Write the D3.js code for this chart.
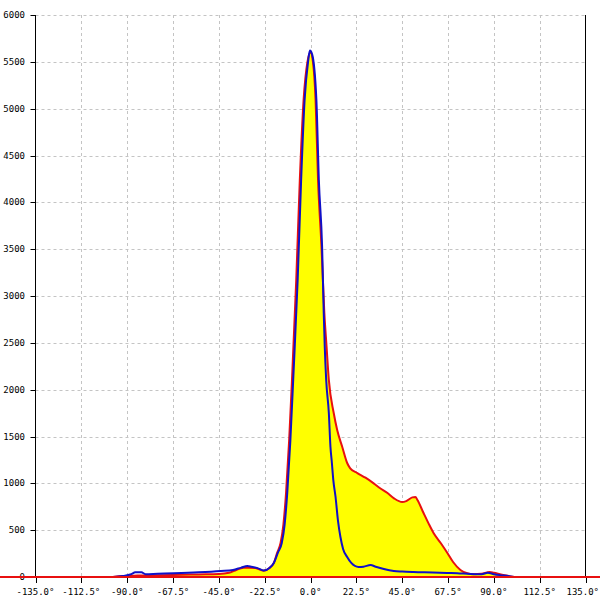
<!DOCTYPE html>
<html>
<head>
<meta charset="utf-8">
<script src="https://cdn.jsdelivr.net/npm/d3@7"></script>
<style>
  html, body { margin: 0; padding: 0; background: #fff; }
  svg { display: block; }
  text { font-family: "DejaVu Sans Mono", monospace; font-size: 9px; fill: #000; }
</style>
</head>
<body>
<svg id="chart" width="600" height="600"></svg>
<script>
// ---- data ----
const xTicks = [-135, -112.5, -90, -67.5, -45, -22.5, 0, 22.5, 45, 67.5, 90, 112.5, 135];
const yTicks = [0, 500, 1000, 1500, 2000, 2500, 3000, 3500, 4000, 4500, 5000, 5500, 6000];

const redAngles = [-97, -92, -85, -75, -67.5, -55, -45, -40, -37, -33, -30, -27, -23, -20, -18, -16.5, -14.7, -13.3, -12, -10.5, -9, -7, -5.25, -3.4, -1.5, 0, 1.2, 2.5, 3.7, 5.4, 6.8, 7.9, 9.0, 11.4, 13.1, 15.6, 18, 19.5, 23, 27, 31, 34, 37.8, 41, 45, 47, 50, 51.5, 52.5, 55.5, 58, 60.4, 64, 67.2, 70, 73.6, 77, 80, 84, 88, 90, 93, 96, 100];
const redValues = [0, 10, 15, 18, 22, 28, 32, 45, 70, 100, 100, 96, 67, 100, 150, 250, 363, 560, 900, 1450, 2150, 3171, 4238, 5090, 5500, 5600, 5500, 5090, 4238, 3523, 2818, 2455, 2104, 1751, 1569, 1388, 1217, 1160, 1110, 1060, 1000, 950, 897, 840, 800, 810, 850, 855, 822, 683, 570, 470, 360, 256, 160, 75, 40, 30, 35, 53, 45, 30, 15, 0];

const blueAngles = [-97, -92, -88, -86, -83, -81, -75, -67, -55, -44, -38, -34, -31, -29, -26, -23, -20, -18, -16, -14.1, -12.7, -11.4, -9.9, -8.4, -6.3, -4.6, -2.9, -1.2, -0.3, 0.8, 2.9, 4.1, 5.7, 6.5, 7.0, 7.7, 9.0, 9.8, 10.5, 11.2, 12.3, 13.5, 14.7, 16, 18, 20, 23.6, 26, 29.5, 32, 36, 40.9, 45, 50.6, 60, 67, 72, 78.5, 84, 87, 90, 93, 97, 100];
const blueValues = [0, 10, 30, 50, 50, 30, 35, 40, 50, 64, 75, 100, 117, 110, 95, 70, 100, 150, 260, 363, 560, 900, 1450, 2150, 3171, 4238, 5090, 5500, 5620, 5580, 5090, 4238, 3523, 2818, 2455, 2104, 1751, 1388, 1217, 1035, 854, 600, 427, 300, 213, 150, 107, 110, 128, 110, 85, 64, 58, 53, 48, 43, 40, 32, 30, 45, 30, 20, 10, 0];

// ---- chart ----
const svg = d3.select("#chart");
const x = d3.scaleLinear().domain([-135, 135]).range([35.5, 585.5]);
const y = d3.scaleLinear().domain([0, 6000]).range([577, 15]);
const fmtX = d => d.toFixed(1) + "\u00b0";

// grid
svg.append("g").selectAll("line").data(yTicks.filter(d => d > 0)).join("line")
  .attr("x1", x(-135)).attr("x2", x(135))
  .attr("y1", d => Math.round(y(d)) + 0.5).attr("y2", d => Math.round(y(d)) + 0.5)
  .attr("stroke", "#c4c4c4").attr("stroke-dasharray", "3,3");
svg.append("g").selectAll("line").data(xTicks.filter(d => d > -135 && d < 135)).join("line")
  .attr("x1", d => Math.round(x(d)) + 0.5).attr("x2", d => Math.round(x(d)) + 0.5)
  .attr("y1", y(6000)).attr("y2", y(0))
  .attr("stroke", "#c4c4c4").attr("stroke-dasharray", "3,3");

const redData = redAngles.map((a, i) => [a, redValues[i]]);
const blueData = blueAngles.map((a, i) => [a, blueValues[i]]);

const area = d3.area().x(d => x(d[0])).y0(y(0)).y1(d => y(d[1])).curve(d3.curveMonotoneX);
const line = d3.line().x(d => x(d[0])).y(d => y(d[1])).curve(d3.curveMonotoneX);

svg.append("path").datum(redData).attr("d", area).attr("fill", "#ffff00");
svg.append("path").datum(redData).attr("d", line).attr("fill", "none")
  .attr("stroke", "#e81010").attr("stroke-width", 2).attr("stroke-linejoin", "round");
svg.append("path").datum(blueData).attr("d", line).attr("fill", "none")
  .attr("stroke", "#1010c8").attr("stroke-width", 2).attr("stroke-linejoin", "round");

// axes lines
svg.append("line").attr("x1", x(-135)).attr("x2", x(-135)).attr("y1", y(6000)).attr("y2", y(0))
  .attr("stroke", "#000").attr("stroke-width", 1);
svg.append("line").attr("x1", x(135)).attr("x2", x(135)).attr("y1", y(6000)).attr("y2", y(0))
  .attr("stroke", "#000").attr("stroke-width", 1);

// y ticks
const yg = svg.append("g");
yg.selectAll("line").data(yTicks).join("line")
  .attr("x1", x(-135) - 5).attr("x2", x(-135))
  .attr("y1", d => Math.round(y(d)) + 0.5).attr("y2", d => Math.round(y(d)) + 0.5)
  .attr("stroke", "#000");
yg.selectAll("text").data(yTicks).join("text")
  .attr("x", 25).attr("y", d => y(d)).attr("dy", "0.35em")
  .attr("text-anchor", "end").text(d => String(d));

// x ticks
const xg = svg.append("g");
xg.selectAll("line").data(xTicks).join("line")
  .attr("x1", d => Math.round(x(d)) + 0.5).attr("x2", d => Math.round(x(d)) + 0.5)
  .attr("y1", y(0)).attr("y2", y(0) + 6)
  .attr("stroke", "#000");
xg.selectAll("text").data(xTicks).join("text")
  .attr("y", 595)
  .attr("text-anchor", "middle").text(fmtX)
  .attr("x", function(d) {
    const w = this.getComputedTextLength();
    return Math.min(x(d), 599 - w / 2);
  });

// red baseline
svg.append("line").attr("x1", 0).attr("x2", 600).attr("y1", y(0)).attr("y2", y(0))
  .attr("stroke", "#e81010").attr("stroke-width", 2);
</script>
</body>
</html>
